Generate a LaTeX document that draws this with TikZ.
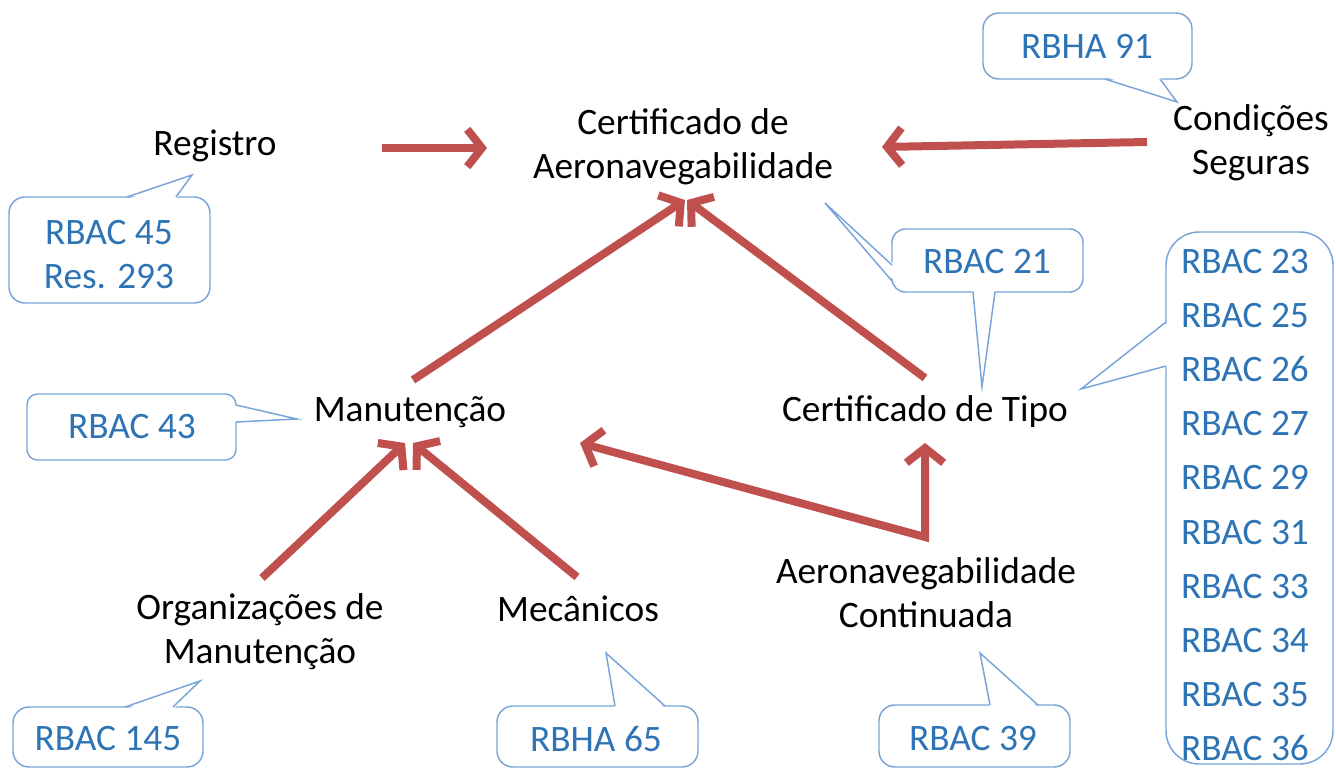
\documentclass[tikz,border=0pt]{standalone}
\usepackage{fontspec}
\setmainfont{Carlito}
\usetikzlibrary{arrows.meta,calc}
\definecolor{arrred}{RGB}{192,80,77}
\definecolor{txtblue}{RGB}{46,116,181}
\definecolor{boxblue}{RGB}{120,164,218}
\tikzset{
  lbl/.style={inner sep=0pt, align=center, font=\fontsize{28}{33}\selectfont, text=black},
  ref/.style={inner sep=0pt, align=center, font=\fontsize{28}{33}\selectfont, text=txtblue},
  arr/.style={draw=arrred, line width=6pt, line join=miter,
    -{Straight Barb[length=11pt,width=28pt]}},
  arrtwo/.style={draw=arrred, line width=6pt, line join=miter,
    {Straight Barb[length=11pt,width=28pt]}-{Straight Barb[length=11pt,width=28pt]}},
  callout/.style={draw=boxblue, line width=1.1pt, line join=miter},
  calloutbox/.style={draw=boxblue, line width=1.1pt, rounded corners=#1},
  calloutbox/.default=12
}
% tail: base1, tip, base2, inward shift for the white patch
\newcommand\calltail[4]{%
  \fill[white] ($#1+#4$) -- #2 -- ($#3+#4$) -- cycle;
  \draw[callout] #1 -- #2 -- #3;}
\begin{document}
\begin{tikzpicture}[x=0.75pt,y=-0.75pt]
\useasboundingbox (0,0) rectangle (1336,771);

% main labels
\node[lbl] (reg)  at (215,146) {Registro};
\node[lbl] (cert) at (683,147) {Certificado de\\Aeronavegabilidade};
\node[lbl] (cond) at (1251,143) {Condições\\Seguras};
\node[lbl] (man)  at (410,412) {Manutenção};
\node[lbl] (tipo) at (925,412) {Certificado de Tipo};
\node[lbl] (org)  at (260,632) {Organizações de\\Manutenção};
\node[lbl] (mec)  at (578,609) {Mecânicos};
\node[lbl] (aer)  at (926,593) {Aeronavegabilidade\\Continuada};

% arrows
\draw[arr] ($(reg)+(167,2)$) -- ($(cert)+(-196,1)$);
\draw[arr] ($(cond)+(-104,-1)$) -- ($(cert)+(199,0)$);
\draw[arr] ($(man)+(3,-32)$) -- ($(cert)+(2,53)$);
\draw[arr] ($(tipo)+(0,-34)$) -- ($(cert)+(4,53)$);
\draw[arr] ($(org)+(2,-54)$) -- ($(man)+(-5,31)$);
\draw[arr] ($(mec)+(-1,-32)$) -- ($(man)+(3,31)$);
\coordinate (corner) at ($(aer)+(-1,-56)$);
\draw[arrtwo] ($(man)+(170,31)$) -- (corner) -- ($(tipo)+(0,31)$);

% callouts
\node[ref] (c45) at (109,255) {RBAC 45\\Res. 293};
\draw[calloutbox] (9,197) rectangle (210,303);
\calltail{(127,197)}{(192,175)}{(176,197)}{(0,2.5)}

\node[ref] (c91) at (1087,46) {RBHA 91};
\draw[calloutbox] (983,13) rectangle (1192,79);
\calltail{(1105,79)}{(1177,102)}{(1160,79)}{(0,-2.5)}

\node[ref] (c21) at (987,262) {RBAC 21};
\draw[calloutbox=10] (892,229) rectangle (1083,292);
\calltail{(973,292)}{(982,387)}{(995,292)}{(0,-2.5)}
\calltail{(892,265)}{(825,203)}{(892,281)}{(2.5,0)}

\node[ref, align=left, font=\fontsize{28}{40.6}\selectfont] (clist) at (1245,505) {RBAC 23\\RBAC 25\\RBAC 26\\RBAC 27\\RBAC 29\\RBAC 31\\RBAC 33\\RBAC 34\\RBAC 35\\RBAC 36};
\draw[calloutbox=25] (1166,232) rectangle (1333,764);
\calltail{(1166,322)}{(1081,389)}{(1166,366)}{(2.5,0)}

\node[ref] (c43) at (132,427) {RBAC 43};
\draw[calloutbox=8] (27,394) rectangle (236,460);
\calltail{(236,405)}{(297,419)}{(236,422)}{(-2.5,0)}

\node[ref] (c145) at (108,739) {RBAC 145};
\draw[calloutbox] (13,707) rectangle (203,767);
\calltail{(125,707)}{(200,681)}{(173,707)}{(0,2.5)}

\node[ref] (c65) at (596,739) {RBHA 65};
\draw[calloutbox] (497,706) rectangle (698,767);
\calltail{(615,706)}{(606,653)}{(665,706)}{(0,2.5)}

\node[ref] (c39) at (973,739) {RBAC 39};
\draw[calloutbox] (879,705) rectangle (1070,767);
\calltail{(990,705)}{(980,653)}{(1038,705)}{(0,2.5)}
\end{tikzpicture}
\end{document}
